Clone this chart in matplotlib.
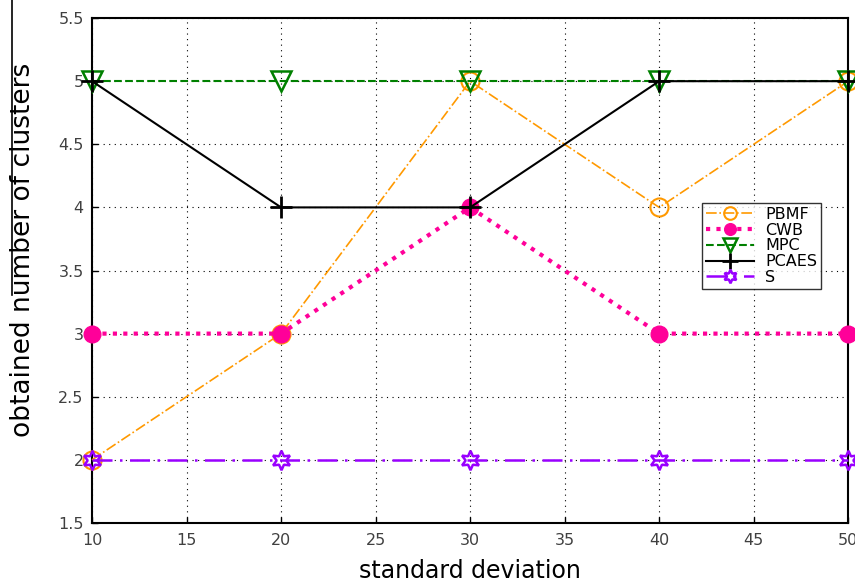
import numpy as np
from matplotlib import pyplot as plt
from matplotlib.lines import Line2D

plt.rcParams['font.family'] = 'sans-serif'
plt.rcParams['font.sans-serif'] = ['DejaVu Sans']
plt.rcParams['xtick.direction'] = 'in'
plt.rcParams['ytick.direction'] = 'in'

std_dev = [10, 20, 30, 40, 50]
pbmf = [2, 3, 5, 4, 5]
cwb = [3, 3, 4, 3, 3]
mpc = [5, 5, 5, 5, 5]
pcaes = [5, 4, 4, 5, 5]
s_idx = [2, 2, 2, 2, 2]

fig = plt.figure(figsize=(8.55, 5.83), dpi=100)
ax = fig.add_axes([0.1076, 0.103, 0.8845, 0.866])

ax.plot(std_dev, pbmf, color='#ff9900', linestyle='-.', linewidth=1.2,
        marker='o', markersize=13, markerfacecolor='none', markeredgewidth=1.5,
        label='PBMF', clip_on=False, zorder=3)
ax.plot(std_dev, cwb, color='#ff0099', linestyle=(0, (1, 1.5)), linewidth=3,
        marker='o', markersize=12, markerfacecolor='#ff0099', markeredgewidth=1,
        label='CWB', clip_on=False, zorder=3)
ax.plot(std_dev, mpc, color='#008000', linestyle='--', linewidth=1.5,
        marker='v', markersize=14, markerfacecolor='none', markeredgewidth=1.8,
        label='MPC', clip_on=False, zorder=3)
ax.plot(std_dev, pcaes, color='black', linestyle='-', linewidth=1.5,
        marker='+', markersize=16, markeredgewidth=2,
        label='PCAES', clip_on=False, zorder=4)
ax.plot(std_dev, s_idx, color='#9900ff', linestyle=(0, (8, 3, 1, 3)), linewidth=1.8,
        marker=(6, 1, 0), markersize=14, markerfacecolor='none', markeredgewidth=1.8,
        label='S', clip_on=False, zorder=3)

ax.set_xlim(10, 50)
ax.set_ylim(1.5, 5.5)
ax.set_xticks([10, 15, 20, 25, 30, 35, 40, 45, 50])
ax.set_yticks([1.5, 2, 2.5, 3, 3.5, 4, 4.5, 5, 5.5])
ax.set_yticklabels(['1.5', '2', '2.5', '3', '3.5', '4', '4.5', '5', '5.5'])
ax.tick_params(labelsize=11.5, labelcolor='#404040', length=4, width=1)
ax.tick_params(axis='x', pad=7)
ax.tick_params(axis='y', pad=6)
ax.grid(True, color='black', linestyle=(0, (1, 4)), linewidth=0.8)
for sp in ax.spines.values():
    sp.set_linewidth(1.5)

ax.set_xlabel('standard deviation', fontsize=17, labelpad=8)
ax.set_ylabel('obtained number of clusters', fontsize=19)
ax.yaxis.set_label_coords(-0.074, 0.54)

leg = ax.legend(loc='upper left', bbox_to_anchor=(0.807, 0.634), fontsize=11.5,
                frameon=True, fancybox=False, borderpad=0.25, labelspacing=0.05,
                handlelength=3.0, handletextpad=0.7, borderaxespad=0,
                markerscale=0.7)
leg.get_frame().set_edgecolor('black')
leg.get_frame().set_linewidth(1)

fig.add_artist(Line2D([0.014, 0.014], [1.0, 0.494], color='black', linewidth=1.2))

fig.savefig('out.png', dpi=100)
